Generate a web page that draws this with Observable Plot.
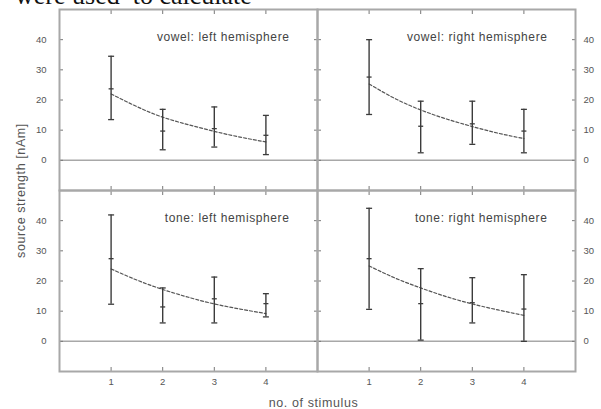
<!DOCTYPE html>
<html><head><meta charset="utf-8">
<script src="https://cdn.jsdelivr.net/npm/d3@7"></script>
<script src="https://cdn.jsdelivr.net/npm/@observablehq/plot@0.6"></script>
<style>
body{margin:0;background:#fff;}
#wrap{position:relative;width:601px;height:409px;overflow:hidden;background:#fff;}
#head{position:absolute;left:15px;top:-17px;font-family:"Liberation Serif","Times New Roman",serif;font-size:26px;line-height:26px;white-space:pre;color:#111}
#chart{position:absolute;left:0;top:0}
</style></head><body>
<div id="wrap"><div id="chart"></div><div id="head">were used  to calculate</div></div>
<script>
// ---- data ----
const stimuli = [1, 2, 3, 4];
const yTicks = [0, 10, 20, 30, 40];

const vowelLeftMean = [23.7, 9.7, 10.5, 8.3];
const vowelLeftHigh = [34.5, 16.9, 17.7, 14.9];
const vowelLeftLow  = [13.5, 3.5, 4.4, 1.9];

const vowelRightMean = [27.6, 11.3, 12.1, 9.7];
const vowelRightHigh = [40.0, 19.6, 19.6, 16.9];
const vowelRightLow  = [15.2, 2.5, 5.3, 2.5];

const toneLeftMean = [27.4, 11.4, 14.1, 12.5];
const toneLeftHigh = [41.9, 17.7, 21.3, 15.8];
const toneLeftLow  = [12.3, 6.1, 6.1, 8.1];

const toneRightMean = [27.4, 12.5, 12.8, 10.7];
const toneRightHigh = [44.1, 24.1, 21.1, 22.1];
const toneRightLow  = [10.6, 0.4, 6.1, 0.0];

// fitted decay curves, read at half steps
const fitX = [1, 1.5, 2, 2.5, 3, 3.5, 4];
const vowelLeftFit  = [22.0, 17.8, 14.3, 11.8, 9.6, 7.7, 6.1];
const vowelRightFit = [25.3, 20.5, 16.7, 13.7, 11.2, 9.0, 7.2];
const toneLeftFit   = [24.0, 20.3, 17.2, 14.6, 12.4, 10.7, 9.2];
const toneRightFit  = [25.0, 21.0, 17.7, 14.8, 12.4, 10.4, 8.6];

const panelType  = ["vowel", "vowel", "tone", "tone"];
const panelSide  = ["left", "right", "left", "right"];
const panelTitle = ["vowel: left hemisphere", "vowel: right hemisphere", "tone: left hemisphere", "tone: right hemisphere"];
const yLabel = "source strength [nAm]";
const xLabel = "no. of stimulus";

// ---- build tables ----
const means = [vowelLeftMean, vowelRightMean, toneLeftMean, toneRightMean];
const highs = [vowelLeftHigh, vowelRightHigh, toneLeftHigh, toneRightHigh];
const lows  = [vowelLeftLow, vowelRightLow, toneLeftLow, toneRightLow];
const fits  = [vowelLeftFit, vowelRightFit, toneLeftFit, toneRightFit];

const points = [], curve = [], titles = [];
panelType.forEach((type, p) => {
  const side = panelSide[p];
  stimuli.forEach((s, i) => points.push({type, side, stim: s, mean: means[p][i], hi: highs[p][i], lo: lows[p][i]}));
  fitX.forEach((x, i) => curve.push({type, side, x, y: fits[p][i]}));
  titles.push({type, side, title: panelTitle[p]});
});

const hbar = {draw(ctx, size) { const w = Math.sqrt(size / Math.PI); ctx.moveTo(-w, 0); ctx.lineTo(w, 0); }};

const frameColor = "#a8a8a8";
const textColor = "#555";
const dataColor = "#3c3c3c";

const chart = Plot.plot({
  width: 601, height: 409,
  marginLeft: 59, marginRight: 26, marginTop: 9, marginBottom: 38,
  style: {fontFamily: "'Liberation Sans', Arial, sans-serif", fontSize: "10px", background: "transparent"},
  fx: {domain: ["left", "right"], padding: 0, axis: null, label: null},
  fy: {domain: ["vowel", "tone"], padding: 0, axis: null, label: null},
  x: {domain: [0, 5]},
  y: {domain: [-10, 50]},
  marks: [
    Plot.ruleY([0], {stroke: frameColor, strokeWidth: 1.5}),
    // inward tick marks on all four sides of each panel
    Plot.axisY({anchor: "left", facetAnchor: null, ticks: yTicks, tickSize: -4, tickFormat: () => "", label: null, stroke: "#777"}),
    Plot.axisY({anchor: "right", facetAnchor: null, ticks: yTicks, tickSize: -4, tickFormat: () => "", label: null, stroke: "#777"}),
    Plot.axisX({anchor: "top", facetAnchor: null, ticks: stimuli, tickSize: -4, tickFormat: () => "", label: null, stroke: "#777"}),
    Plot.axisX({anchor: "bottom", facetAnchor: null, ticks: stimuli, tickSize: -4, tickFormat: () => "", label: null, stroke: "#777"}),
    // tick labels
    Plot.axisY({anchor: "left", facetAnchor: "left", ticks: yTicks, tickFormat: "d", tickSize: 0, tickPadding: 13, label: null, fill: textColor, fontSize: 9.5}),
    Plot.axisY({anchor: "right", facetAnchor: "right", ticks: yTicks, tickFormat: "d", tickSize: 0, tickPadding: 8, label: null, fill: textColor, fontSize: 9.5}),
    Plot.axisX({anchor: "bottom", facetAnchor: "bottom", ticks: stimuli, tickFormat: "d", tickSize: 0, tickPadding: 7, label: null, fill: textColor, fontSize: 9.5}),
    Plot.frame({stroke: frameColor, strokeWidth: 2}),
    // fitted curves
    Plot.line(curve, {x: "x", y: "y", fx: "side", fy: "type", curve: "natural", stroke: "#555", strokeWidth: 1.2, strokeDasharray: "3,2"}),
    // error bars
    Plot.ruleX(points, {x: "stim", y1: "lo", y2: "hi", fx: "side", fy: "type", stroke: dataColor, strokeWidth: 1.4}),
    Plot.dot(points, {x: "stim", y: "hi", fx: "side", fy: "type", symbol: hbar, r: 3, stroke: dataColor, strokeWidth: 1.3}),
    Plot.dot(points, {x: "stim", y: "lo", fx: "side", fy: "type", symbol: hbar, r: 3, stroke: dataColor, strokeWidth: 1.3}),
    Plot.dot(points, {x: "stim", y: "mean", fx: "side", fy: "type", symbol: hbar, r: 2.5, stroke: dataColor, strokeWidth: 1.3}),
    // panel titles
    Plot.text(titles, {fx: "side", fy: "type", text: "title", frameAnchor: "top-right", dx: -28, dy: 23, fill: "#444", fontSize: 12}),
    // axis titles
    Plot.text([yLabel], {facet: "super", frameAnchor: "left", textAnchor: "middle", lineAnchor: "middle", dx: -39, rotate: -90, fill: textColor, fontSize: 12.5}),
    Plot.text([xLabel], {facet: "super", frameAnchor: "bottom", lineAnchor: "middle", dx: -4, dy: 31, fill: textColor, fontSize: 12.5})
  ]
});
d3.select(chart).selectAll('g[aria-label="text"] text').style("letter-spacing", "0.6px");
document.getElementById("chart").appendChild(chart);
</script>
</body></html>
